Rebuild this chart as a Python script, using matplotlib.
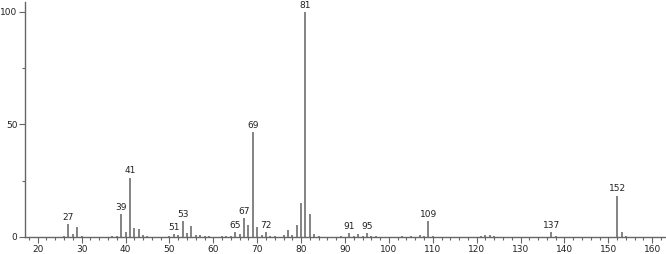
import matplotlib
matplotlib.use("Agg")
import matplotlib.pyplot as plt
from matplotlib.ticker import MultipleLocator, FixedLocator

# m/z and relative intensity
mz = [26, 27, 28, 29, 30, 37, 38, 39, 40, 41, 42, 43, 44, 45,
      50, 51, 52, 53, 54, 55, 56, 57, 58, 59, 62, 63,
      64, 65, 66, 67, 68, 69, 70, 71, 72, 73, 74,
      76, 77, 78, 79, 80, 81, 82, 83, 84,
      89, 91, 92, 93, 94, 95, 96, 97,
      103, 105, 107, 108, 109, 110,
      121, 122, 123, 124, 137, 138, 152, 153, 154]
intensity = [0.6, 5.8, 1.2, 4.4, 0.4, 0.4, 0.5, 10.1, 2.4, 26.4, 4.0, 3.5, 1.0, 0.5,
             0.4, 1.3, 0.9, 7.0, 1.8, 4.9, 1.0, 0.7, 0.5, 0.4, 0.4, 0.5,
             0.4, 2.2, 1.2, 8.3, 5.2, 46.7, 4.4, 1.0, 2.2, 0.5, 0.4,
             0.8, 3.0, 0.8, 5.2, 15.1, 100.0, 10.1, 1.5, 0.5,
             0.3, 1.8, 0.6, 1.3, 0.6, 1.6, 0.5, 0.3,
             0.3, 0.3, 0.8, 0.4, 7.1, 0.5,
             0.4, 0.9, 1.1, 0.5, 2.1, 0.6, 18.4, 2.0, 0.5]
labeled = [27, 39, 41, 51, 53, 65, 67, 69, 72, 81, 91, 95, 109, 137, 152]

fig = plt.figure(figsize=(6.66, 2.54), dpi=100)
ax = fig.add_axes([0.0375, 0.067, 0.961, 0.925])

ax.vlines(mz, 0, intensity, colors="#7a7a7a", linewidth=1.3)

for m, v in zip(mz, intensity):
    if m in labeled:
        ax.annotate(str(m), (m, v), xytext=(0, 1.5), textcoords="offset points",
                    ha="center", va="bottom", fontsize=6.5, color="#222222")

ax.set_xlim(17.1, 162.9)
ax.set_ylim(0, 104.4)

for side in ["top", "right"]:
    ax.spines[side].set_visible(False)
for side in ["left", "bottom"]:
    ax.spines[side].set_color("#666666")
    ax.spines[side].set_linewidth(1.0)

ax.xaxis.set_major_locator(MultipleLocator(10))
ax.xaxis.set_minor_locator(MultipleLocator(2))
ax.yaxis.set_major_locator(FixedLocator([0, 50, 100]))
ax.yaxis.set_minor_locator(FixedLocator([25, 75]))
ax.tick_params(axis="both", which="major", length=4, width=0.8, color="#666666",
               labelsize=6.5, labelcolor="#222222", pad=1.5)
ax.tick_params(axis="both", which="minor", length=2, width=0.8, color="#666666")

fig.savefig("out.png", dpi=100)
